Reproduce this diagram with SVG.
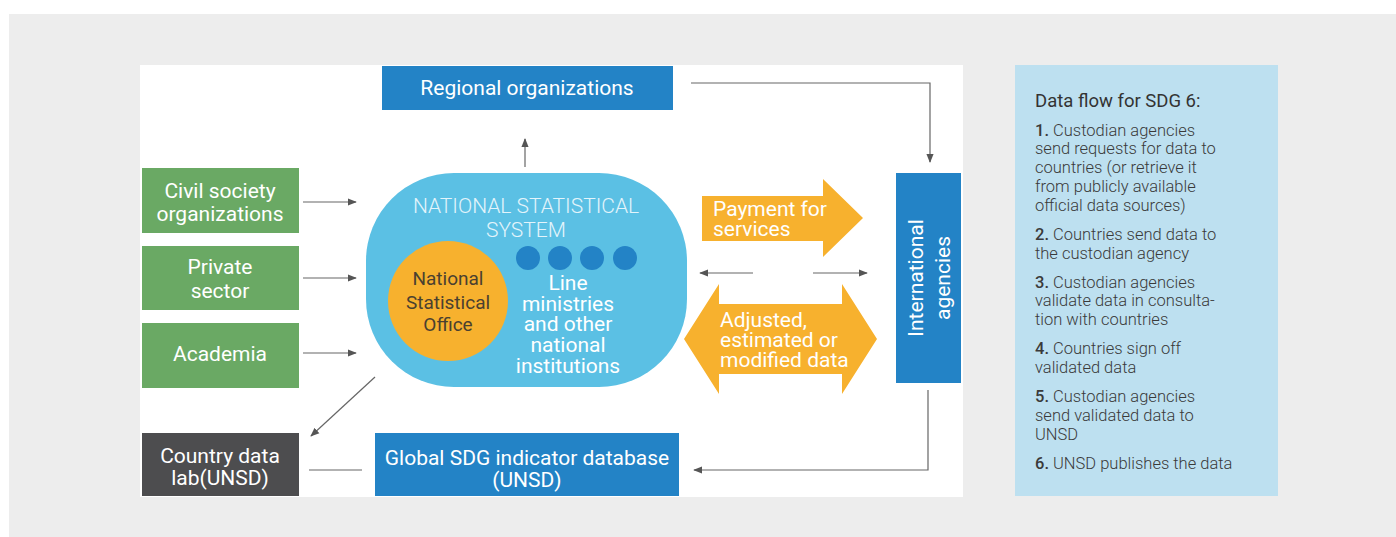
<svg xmlns="http://www.w3.org/2000/svg" width="1396" height="537" viewBox="0 0 1396 537">
<defs>
<marker id="ah" viewBox="0 0 10 10" refX="9" refY="5" markerWidth="9" markerHeight="9" markerUnits="userSpaceOnUse" orient="auto">
<path d="M0,1 L10,5 L0,9 Z" fill="#555"/>
</marker>
<style>
text{font-family:Roboto,"Liberation Sans",sans-serif}
.w{fill:#fff;font-size:21px;text-anchor:middle}
.wl{fill:#fff;font-size:21px}
.c{stroke:#666;stroke-width:1.2;fill:none}
.blue{fill:#2383c6}
.green{fill:#6aa964}
.org{fill:#f7b12e}
.side{fill:#3a3a3a;font-size:16.5px;font-weight:300}
.num{font-weight:500}
</style>
</defs>
<rect x="0" y="0" width="1396" height="537" fill="#fff"/>
<rect x="9" y="14" width="1387" height="523" fill="#ededed"/>
<rect x="140" y="65" width="823" height="432" fill="#fff"/>

<g id="connectors">
<path class="c" d="M525,167 L525,139" marker-end="url(#ah)"/>
<path class="c" d="M691,83 L930,83 L930,162" marker-end="url(#ah)"/>
<path class="c" d="M303,202 L356,202" marker-end="url(#ah)"/>
<path class="c" d="M303,278 L356,278" marker-end="url(#ah)"/>
<path class="c" d="M303,353 L356,353" marker-end="url(#ah)"/>
<path class="c" d="M753,273 L700,273" marker-end="url(#ah)"/>
<path class="c" d="M813,273 L867,273" marker-end="url(#ah)"/>
<path class="c" d="M928,390 L928,470 L694,470" marker-end="url(#ah)"/>
<path class="c" d="M375,377 L311,436" marker-end="url(#ah)"/>
<path class="c" d="M362,470 L309,470"/>
</g>

<g id="regional">
<rect class="blue" x="382" y="66" width="291" height="44"/>
<text class="w" x="527" y="94.5">Regional organizations</text>
</g>

<g id="civil">
<rect class="green" x="142" y="168" width="157" height="65"/>
<text class="w" x="220" y="197.5">Civil society</text>
<text class="w" x="220" y="221">organizations</text>
</g>
<g id="private">
<rect class="green" x="142" y="246" width="157" height="64"/>
<text class="w" x="220" y="274">Private</text>
<text class="w" x="220" y="298">sector</text>
</g>
<g id="academia">
<rect class="green" x="142" y="323" width="157" height="65"/>
<text class="w" x="220" y="360.5">Academia</text>
</g>

<g id="nss">
<rect x="366" y="173" width="321" height="214" rx="88" ry="88" fill="#5bc0e4"/>
<text x="526" y="212.5" font-size="21" font-weight="300" fill="#e3f4fb" text-anchor="middle">NATIONAL STATISTICAL</text>
<text x="526" y="237" font-size="21" font-weight="300" fill="#e3f4fb" text-anchor="middle">SYSTEM</text>
</g>
<g id="nso">
<circle class="org" cx="448" cy="301" r="60"/>
<text x="448" y="285" font-size="19" fill="#4a4030" text-anchor="middle">National</text>
<text x="448" y="308.5" font-size="19" fill="#4a4030" text-anchor="middle">Statistical</text>
<text x="448" y="331" font-size="19" fill="#4a4030" text-anchor="middle">Office</text>
</g>
<g id="line-ministries">
<circle class="blue" cx="528" cy="258" r="12"/>
<circle class="blue" cx="560" cy="258" r="12"/>
<circle class="blue" cx="592" cy="258" r="12"/>
<circle class="blue" cx="625" cy="258" r="12"/>
<text class="w" x="568" y="290">Line</text>
<text class="w" x="568" y="310.5">ministries</text>
<text class="w" x="568" y="331">and other</text>
<text class="w" x="568" y="352">national</text>
<text class="w" x="568" y="373">institutions</text>
</g>

<g id="payment">
<polygon class="org" points="702,196 823,196 823,179 863,218 823,257 823,241 702,241"/>
<text class="wl" x="713" y="216">Payment for</text>
<text class="wl" x="713" y="236">services</text>
</g>
<g id="adjusted">
<polygon class="org" points="684,339 719,284 719,304 842,304 842,284 877,339 842,394 842,374 719,374 719,394"/>
<text class="wl" x="720" y="327">Adjusted,</text>
<text class="wl" x="720" y="347">estimated or</text>
<text class="wl" x="720" y="366.5">modified data</text>
</g>

<g id="international">
<rect class="blue" x="896" y="173" width="65" height="210"/>
<text class="w" transform="translate(922.5,278) rotate(-90)">International</text>
<text class="w" transform="translate(949.5,278) rotate(-90)">agencies</text>
</g>

<g id="global-db">
<rect class="blue" x="375" y="433" width="304" height="63"/>
<text class="w" x="527" y="464.5">Global SDG indicator database</text>
<text class="w" x="527" y="486.5">(UNSD)</text>
</g>
<g id="country-lab">
<rect x="142" y="433" width="157" height="63" fill="#4d4d4f"/>
<text class="w" x="220" y="462.5">Country data</text>
<text class="w" x="220" y="484.5">lab(UNSD)</text>
</g>

<g id="legend">
<rect x="1015" y="65" width="263" height="431" fill="#bde0f0"/>
<text x="1035" y="107" font-size="18.5" fill="#333">Data flow for SDG 6:</text>
<text class="side" x="1035" y="136"><tspan class="num">1.</tspan> Custodian agencies</text>
<text class="side" x="1035" y="154">send requests for data to</text>
<text class="side" x="1035" y="173">countries (or retrieve it</text>
<text class="side" x="1035" y="192">from publicly available</text>
<text class="side" x="1035" y="211">official data sources)</text>
<text class="side" x="1035" y="240"><tspan class="num">2.</tspan> Countries send data to</text>
<text class="side" x="1035" y="259">the custodian agency</text>
<text class="side" x="1035" y="288"><tspan class="num">3.</tspan> Custodian agencies</text>
<text class="side" x="1035" y="306">validate data in consulta-</text>
<text class="side" x="1035" y="325">tion with countries</text>
<text class="side" x="1035" y="354"><tspan class="num">4.</tspan> Countries sign off</text>
<text class="side" x="1035" y="373">validated data</text>
<text class="side" x="1035" y="402"><tspan class="num">5.</tspan> Custodian agencies</text>
<text class="side" x="1035" y="421">send validated data to</text>
<text class="side" x="1035" y="440">UNSD</text>
<text class="side" x="1035" y="469"><tspan class="num">6.</tspan> UNSD publishes the data</text>
</g>
</svg>
